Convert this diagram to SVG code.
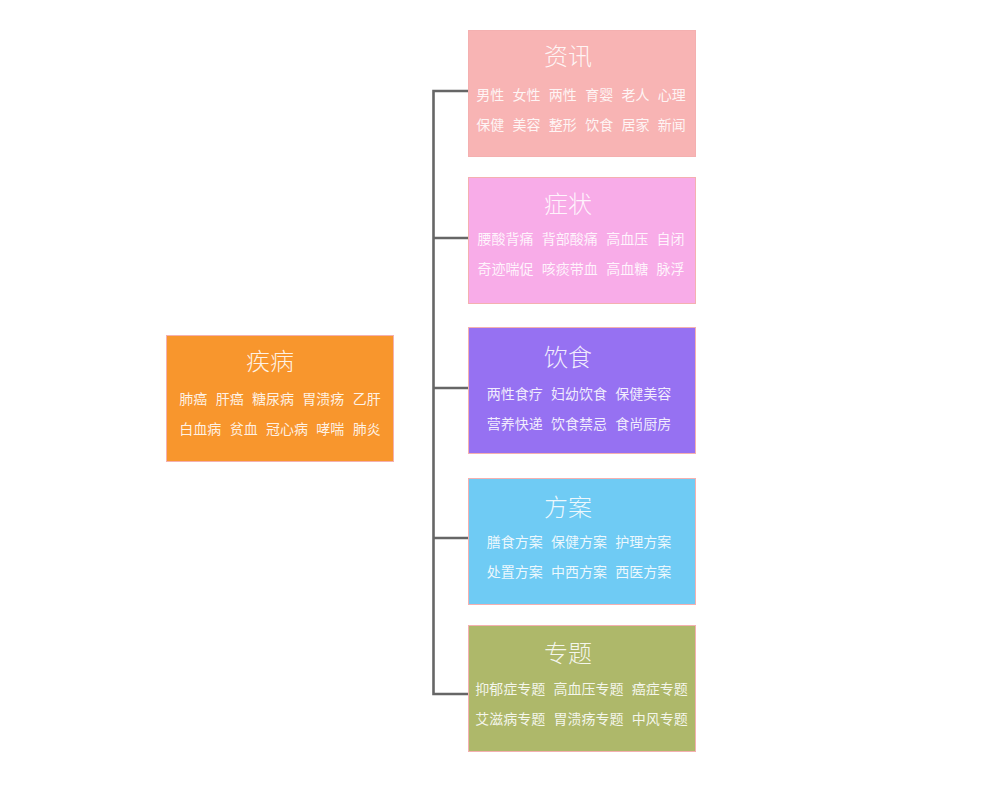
<svg xmlns="http://www.w3.org/2000/svg" width="1000" height="786" viewBox="0 0 1000 786">
<style>
.box{stroke:#f4b0b0;stroke-width:1}
.t{font-family:"Noto Sans CJK SC","Noto Sans",sans-serif;fill:#ffffff;fill-opacity:0.88;text-anchor:middle}
.h{font-size:24px;font-weight:300}
.s{font-size:14px;word-spacing:5.2px}
.conn{fill:none;stroke:#666666;stroke-width:2.6}
</style>
<rect width="1000" height="786" fill="#ffffff"/>
<g id="connectors">
<path class="conn" d="M468,91 H433.5 V694 H468"/>
<path class="conn" d="M433.5,238 H468"/>
<path class="conn" d="M433.5,388 H468"/>
<path class="conn" d="M433.5,538 H468"/>
</g>
<g id="jibing">
<rect class="box" x="166.5" y="335.5" width="227" height="126" fill="#f8962d"/>
<text class="t h" x="270" y="370">疾病</text>
<text class="t s" x="280" y="404" xml:space="preserve">肺癌 肝癌 糖尿病 胃溃疡 乙肝</text>
<text class="t s" x="280" y="434" xml:space="preserve">白血病 贫血 冠心病 哮喘 肺炎</text>
</g>
<g id="zixun">
<rect class="box" x="468.5" y="30.5" width="227" height="126" fill="#f8b4b4"/>
<text class="t h" x="568" y="64.5">资讯</text>
<text class="t s" x="581" y="99.5" xml:space="preserve">男性 女性 两性 育婴 老人 心理</text>
<text class="t s" x="581" y="129.5" xml:space="preserve">保健 美容 整形 饮食 居家 新闻</text>
</g>
<g id="zhengzhuang">
<rect class="box" x="468.5" y="177.5" width="227" height="126" fill="#f8ace8"/>
<text class="t h" x="568" y="212.5">症状</text>
<text class="t s" x="581" y="243.5" xml:space="preserve">腰酸背痛 背部酸痛 高血压 自闭</text>
<text class="t s" x="581" y="273.5" xml:space="preserve">奇迹喘促 咳痰带血 高血糖 脉浮</text>
</g>
<g id="yinshi">
<rect class="box" x="468.5" y="327.5" width="227" height="126" fill="#9671f2"/>
<text class="t h" x="568" y="366">饮食</text>
<text class="t s" x="579" y="399" xml:space="preserve">两性食疗 妇幼饮食 保健美容</text>
<text class="t s" x="579" y="429" xml:space="preserve">营养快递 饮食禁忌 食尚厨房</text>
</g>
<g id="fangan">
<rect class="box" x="468.5" y="478.5" width="227" height="126" fill="#6fcbf4"/>
<text class="t h" x="568" y="515.5">方案</text>
<text class="t s" x="579" y="547" xml:space="preserve">膳食方案 保健方案 护理方案</text>
<text class="t s" x="579" y="576.5" xml:space="preserve">处置方案 中西方案 西医方案</text>
</g>
<g id="zhuanti">
<rect class="box" x="468.5" y="625.5" width="227" height="126" fill="#aeb86a"/>
<text class="t h" x="568" y="662">专题</text>
<text class="t s" x="581.5" y="694" xml:space="preserve">抑郁症专题 高血压专题 癌症专题</text>
<text class="t s" x="581.5" y="723.5" xml:space="preserve">艾滋病专题 胃溃疡专题 中风专题</text>
</g>
</svg>
